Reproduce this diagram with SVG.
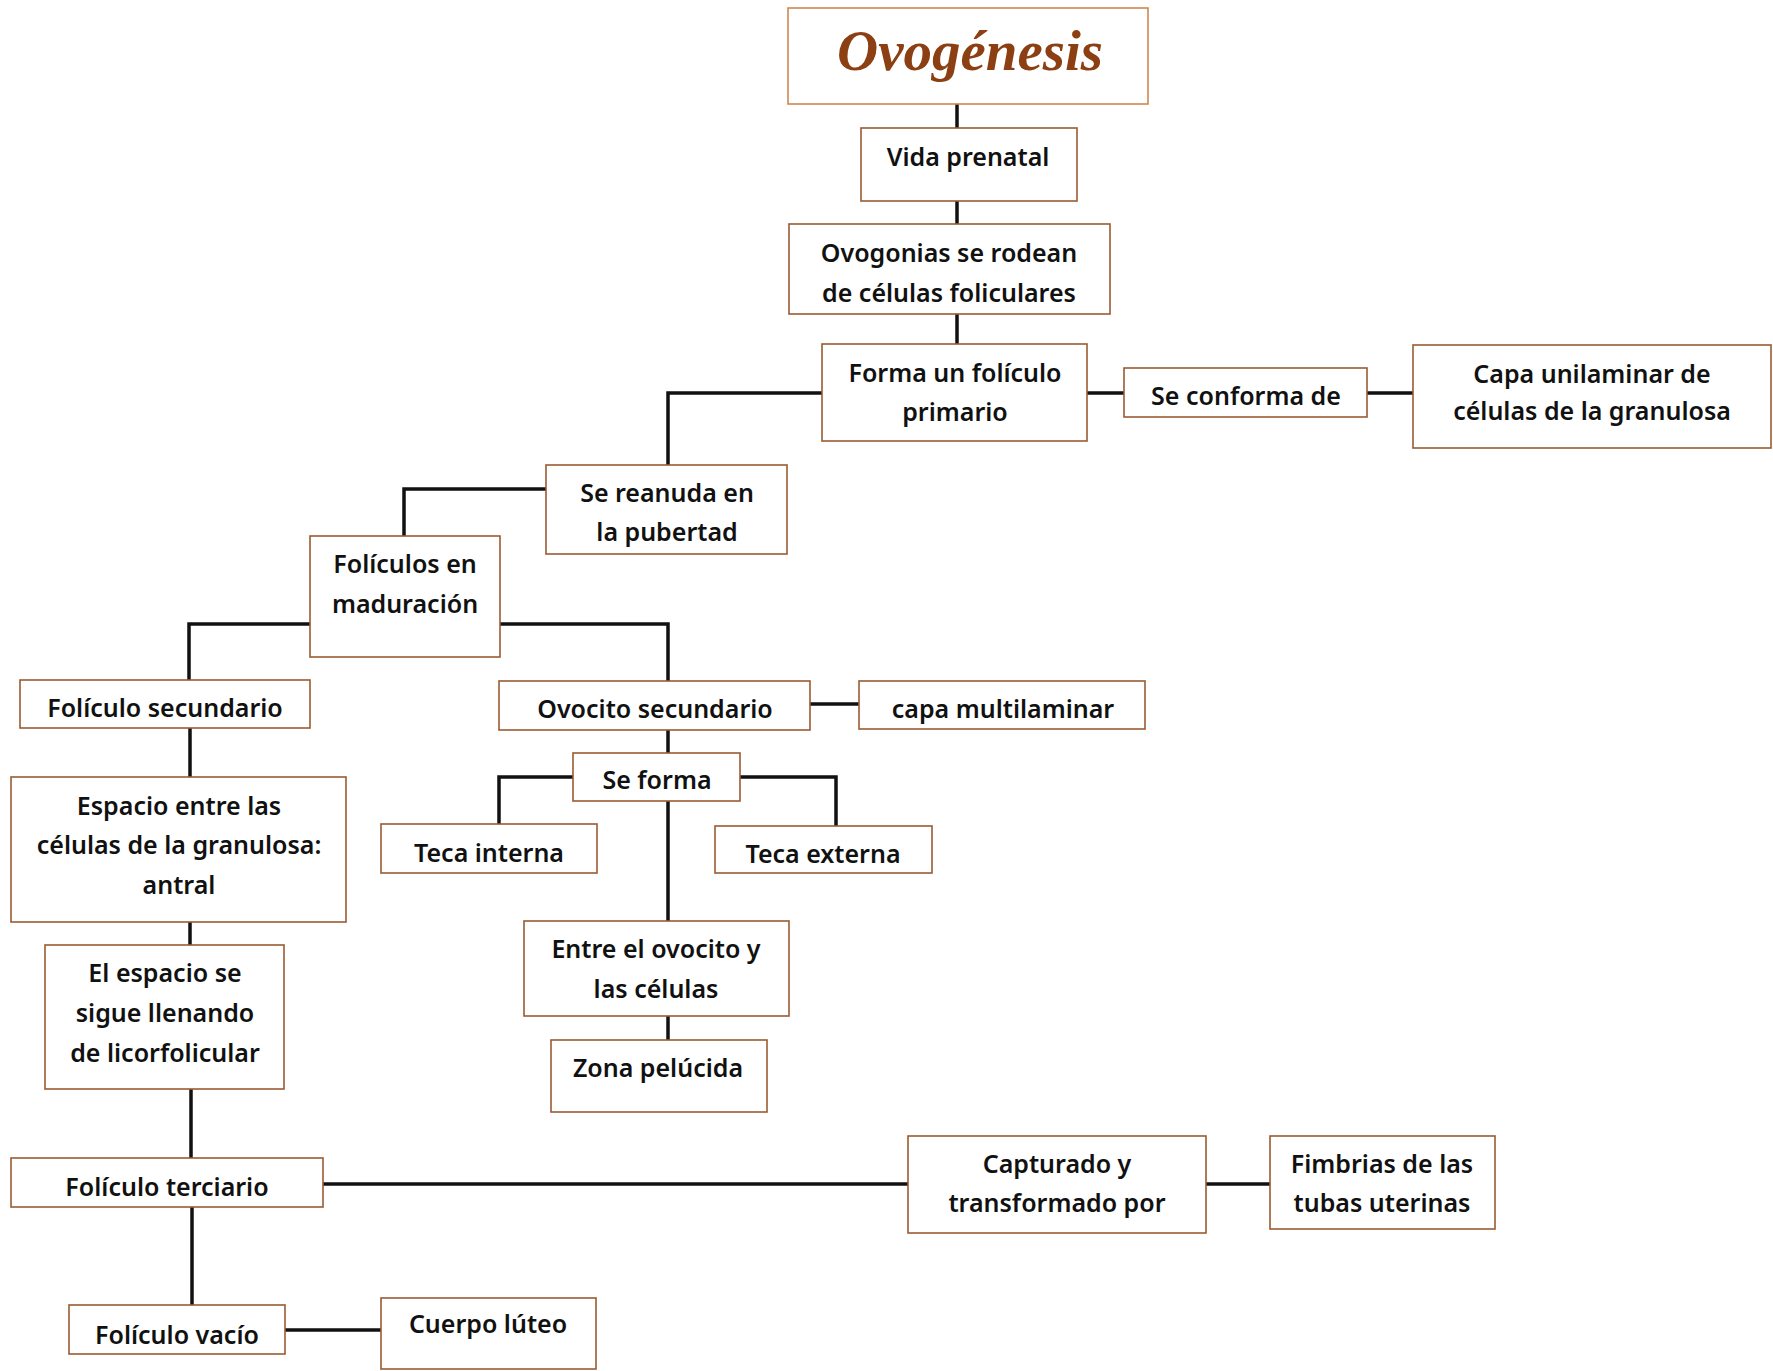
<svg xmlns="http://www.w3.org/2000/svg" width="1773" height="1371" viewBox="0 0 1773 1371">
<style>
.box{fill:#fff;stroke:#9a5a32;stroke-width:1.6}
.tbox{fill:#fff;stroke:#d08850;stroke-width:1.6}
.t{font-family:"Noto Sans","DejaVu Sans",sans-serif;font-size:25px;font-weight:600;fill:#111;text-anchor:middle}
.title{font-family:"Liberation Serif",serif;font-style:italic;font-weight:bold;font-size:57px;fill:#8b3f12;text-anchor:middle}
.c{fill:none;stroke:#111;stroke-width:3.5}
</style>
<rect width="1773" height="1371" fill="#fff"/>
<g id="connectors">
<path class="c" d="M957 104V128M957 201V224M957 314V344"/>
<path class="c" d="M822 393H668V465"/>
<path class="c" d="M1087 393H1124M1367 393H1413"/>
<path class="c" d="M546 489H404V536"/>
<path class="c" d="M310 624H189V680"/>
<path class="c" d="M500 624H668V681"/>
<path class="c" d="M810 704H859"/>
<path class="c" d="M668 730V753M668 801V921M668 1016V1040"/>
<path class="c" d="M573 777H499V824"/>
<path class="c" d="M740 777H836V826"/>
<path class="c" d="M190 728V777M190 922V945M191 1089V1158M192 1207V1305"/>
<path class="c" d="M323 1184H908M1206 1184H1270"/>
<path class="c" d="M285 1330H381"/>
</g>
<g id="n-title"><rect class="tbox" x="788" y="8" width="360" height="96"/><text class="title" x="970" y="70">Ovogénesis</text></g>
<g id="n-vida"><rect class="box" x="861" y="128" width="216" height="73"/><text class="t" x="968" y="166">Vida prenatal</text></g>
<g id="n-ovogonias"><rect class="box" x="789" y="224" width="321" height="90"/><text class="t" x="949" y="262">Ovogonias se rodean</text><text class="t" x="949" y="302">de células foliculares</text></g>
<g id="n-forma"><rect class="box" x="822" y="344" width="265" height="97"/><text class="t" x="955" y="382">Forma un folículo</text><text class="t" x="955" y="421">primario</text></g>
<g id="n-conforma"><rect class="box" x="1124" y="368" width="243" height="49"/><text class="t" x="1246" y="405">Se conforma de</text></g>
<g id="n-capa-uni"><rect class="box" x="1413" y="345" width="358" height="103"/><text class="t" x="1592" y="383">Capa unilaminar de</text><text class="t" x="1592" y="420">células de la granulosa</text></g>
<g id="n-reanuda"><rect class="box" x="546" y="465" width="241" height="89"/><text class="t" x="667" y="502">Se reanuda en</text><text class="t" x="667" y="541">la pubertad</text></g>
<g id="n-maduracion"><rect class="box" x="310" y="536" width="190" height="121"/><text class="t" x="405" y="573">Folículos en</text><text class="t" x="405" y="613">maduración</text></g>
<g id="n-fol-sec"><rect class="box" x="20" y="680" width="290" height="48"/><text class="t" x="165" y="717">Folículo secundario</text></g>
<g id="n-ovo-sec"><rect class="box" x="499" y="681" width="311" height="49"/><text class="t" x="655" y="718">Ovocito secundario</text></g>
<g id="n-capa-multi"><rect class="box" x="859" y="681" width="286" height="48"/><text class="t" x="1003" y="718">capa multilaminar</text></g>
<g id="n-se-forma"><rect class="box" x="573" y="753" width="167" height="48"/><text class="t" x="657" y="789">Se forma</text></g>
<g id="n-teca-int"><rect class="box" x="381" y="824" width="216" height="49"/><text class="t" x="489" y="862">Teca interna</text></g>
<g id="n-teca-ext"><rect class="box" x="715" y="826" width="217" height="47"/><text class="t" x="823" y="863">Teca externa</text></g>
<g id="n-entre"><rect class="box" x="524" y="921" width="265" height="95"/><text class="t" x="656" y="958">Entre el ovocito y</text><text class="t" x="656" y="998">las células</text></g>
<g id="n-zona"><rect class="box" x="551" y="1040" width="216" height="72"/><text class="t" x="658" y="1077">Zona pelúcida</text></g>
<g id="n-espacio"><rect class="box" x="11" y="777" width="335" height="145"/><text class="t" x="179" y="815">Espacio entre las</text><text class="t" x="179" y="854">células de la granulosa:</text><text class="t" x="179" y="894">antral</text></g>
<g id="n-el-espacio"><rect class="box" x="45" y="945" width="239" height="144"/><text class="t" x="165" y="982">El espacio se</text><text class="t" x="165" y="1022">sigue llenando</text><text class="t" x="165" y="1062">de licorfolicular</text></g>
<g id="n-fol-ter"><rect class="box" x="11" y="1158" width="312" height="49"/><text class="t" x="167" y="1196">Folículo terciario</text></g>
<g id="n-capturado"><rect class="box" x="908" y="1136" width="298" height="97"/><text class="t" x="1057" y="1173">Capturado y</text><text class="t" x="1057" y="1212">transformado por</text></g>
<g id="n-fimbrias"><rect class="box" x="1270" y="1136" width="225" height="93"/><text class="t" x="1382" y="1173">Fimbrias de las</text><text class="t" x="1382" y="1212">tubas uterinas</text></g>
<g id="n-fol-vacio"><rect class="box" x="69" y="1305" width="216" height="49"/><text class="t" x="177" y="1344">Folículo vacío</text></g>
<g id="n-cuerpo"><rect class="box" x="381" y="1298" width="215" height="71"/><text class="t" x="488" y="1333">Cuerpo lúteo</text></g>
</svg>
